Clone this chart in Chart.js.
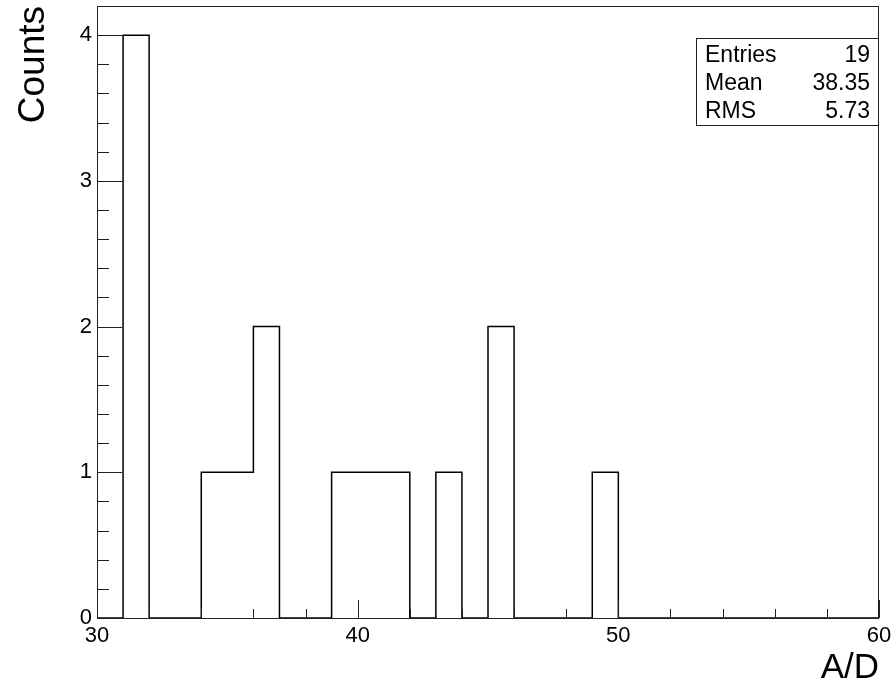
<!DOCTYPE html>
<html>
<head>
<meta charset="utf-8">
<script src="https://cdn.jsdelivr.net/npm/chart.js@4/dist/chart.umd.min.js"></script>
<style>
  html, body { margin: 0; padding: 0; background: #fff; }
  #wrap { width: 894px; height: 686px; }
</style>
</head>
<body>
<div id="wrap"><canvas id="histo"></canvas></div>
<script>
// DONNÉES DE L'HISTOGRAMME (bins de largeur 1, de 30 à 60)
const binEdges = [30, 31, 32, 33, 34, 35, 36, 37, 38, 39, 40, 41, 42, 43, 44, 45,
                  46, 47, 48, 49, 50, 51, 52, 53, 54, 55, 56, 57, 58, 59, 60];
const counts = [0, 4, 0, 0, 1, 1, 2, 0, 0, 1, 1, 1, 0, 1, 0, 2,
                0, 0, 0, 1, 0, 0, 0, 0, 0, 0, 0, 0, 0, 0];
const xTickLabels = [30, 40, 50, 60];
const yTickLabels = [0, 1, 2, 3, 4];
const statNames = ['Entries', 'Mean', 'RMS'];
const statValues = ['19', '38.35', '5.73'];

const FONT = 'Liberation Sans, Arial, Helvetica, sans-serif';

// points du contour en escalier (chaque point tient la hauteur de son bin)
const stepPoints = binEdges.map((edge, i) => ({
    x: edge,
    y: i < counts.length ? counts[i] : counts[counts.length - 1]
}));

// on enlève le padding automatique des labels pour garder la zone de tracé fixe
function noPadding(scale) {
    scale.paddingTop = 0;
    scale.paddingBottom = 0;
    scale.paddingLeft = 0;
    scale.paddingRight = 0;
}

// ticks internes style ROOT + cadre + boîte de stats
const rootStyle = {
    id: 'rootStyle',
    afterDatasetsDraw(chart) {
        const { ctx, chartArea: a, scales: { x, y } } = chart;
        ctx.save();
        ctx.strokeStyle = '#222';
        ctx.lineWidth = 1;

        // cadre
        ctx.strokeRect(a.left + 0.5, a.top + 0.5, a.right - a.left - 1, a.bottom - a.top);

        ctx.beginPath();
        // ticks axe X : majeurs tous les 10, mineurs tous les 2
        for (let v = 30; v <= 60; v += 2) {
            const px = Math.round(x.getPixelForValue(v)) + 0.5;
            const len = (v % 10 === 0) ? 18 : 9;
            ctx.moveTo(px, a.bottom);
            ctx.lineTo(px, a.bottom - len);
        }
        // ticks axe Y : majeurs tous les 1, mineurs tous les 0.2
        for (let k = 0; k <= 21; k++) {
            const v = k * 0.2;
            if (v > y.max) break;
            const py = Math.round(y.getPixelForValue(v)) + 0.5;
            const len = (k % 5 === 0) ? 25 : 12;
            ctx.moveTo(a.left, py);
            ctx.lineTo(a.left + len, py);
        }
        ctx.stroke();

        // boîte de statistiques
        const bw = 183, bh = 87;
        const bx = a.right - bw, by = a.top + 32;
        ctx.fillStyle = '#fff';
        ctx.fillRect(bx, by, bw, bh);
        ctx.strokeRect(bx + 0.5, by + 0.5, bw - 1, bh);
        ctx.fillStyle = '#000';
        ctx.font = '23px ' + FONT;
        ctx.textBaseline = 'alphabetic';
        statNames.forEach((name, i) => {
            const ty = by + 24 + i * 28;
            ctx.textAlign = 'left';
            ctx.fillText(name, bx + 9, ty);
            ctx.textAlign = 'right';
            ctx.fillText(statValues[i], a.right - 9, ty);
        });
        ctx.restore();
    }
};

new Chart(document.getElementById('histo'), {
    type: 'line',
    data: {
        datasets: [{
            data: stepPoints,
            stepped: 'before',
            borderColor: '#000',
            borderWidth: 1.5,
            pointRadius: 0,
            fill: false
        }]
    },
    options: {
        responsive: true,
        maintainAspectRatio: false,
        animation: false,
        layout: { padding: { top: 6, right: 15, bottom: 0, left: 0 } },
        plugins: { legend: { display: false }, tooltip: { enabled: false } },
        scales: {
            x: {
                type: 'linear',
                min: 30,
                max: 60,
                afterFit(scale) { scale.height = 68; noPadding(scale); },
                afterBuildTicks(scale) { scale.ticks = xTickLabels.map(v => ({ value: v })); },
                grid: { display: false, drawTicks: false },
                border: { display: false },
                ticks: {
                    color: '#000',
                    padding: 7,
                    maxRotation: 0,
                    font: { family: FONT, size: 22, lineHeight: 1 }
                },
                title: {
                    display: true,
                    text: 'A/D',
                    align: 'end',
                    color: '#000',
                    padding: 0,
                    font: { family: FONT, size: 35, lineHeight: 1 }
                }
            },
            y: {
                min: 0,
                max: 4.2,
                afterFit(scale) { scale.width = 97; noPadding(scale); },
                afterBuildTicks(scale) { scale.ticks = yTickLabels.map(v => ({ value: v })); },
                grid: { display: false, drawTicks: false },
                border: { display: false },
                ticks: {
                    color: '#000',
                    padding: 5,
                    font: { family: FONT, size: 22, lineHeight: 1 }
                },
                title: {
                    display: true,
                    text: 'Counts',
                    align: 'end',
                    color: '#000',
                    padding: { top: 15, bottom: 0 },
                    font: { family: FONT, size: 37, lineHeight: 1 }
                }
            }
        }
    },
    plugins: [rootStyle]
});
</script>
</body>
</html>
